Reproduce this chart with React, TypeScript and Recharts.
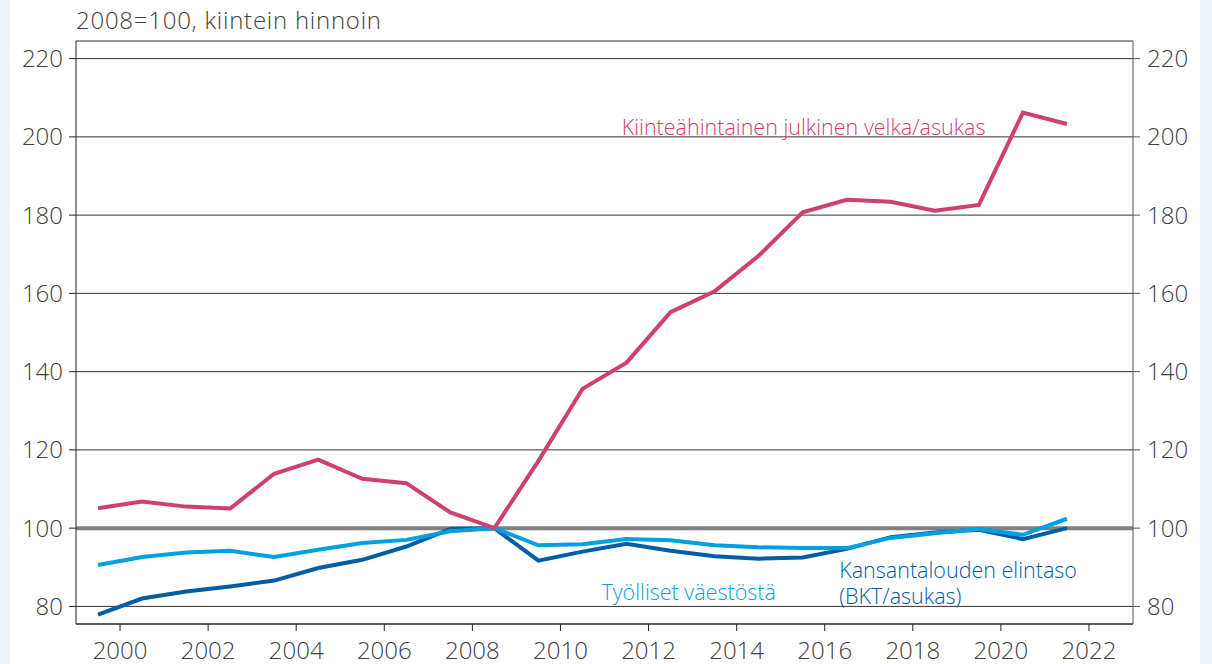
import React from 'react';
import { LineChart, Line, XAxis, YAxis, CartesianGrid, ReferenceLine, ReferenceDot } from 'recharts';

const years = [1999, 2000, 2001, 2002, 2003, 2004, 2005, 2006, 2007, 2008, 2009, 2010, 2011, 2012, 2013, 2014, 2015, 2016, 2017, 2018, 2019, 2020, 2021];
const debtPerCapita = [105.1, 106.8, 105.5, 105.0, 113.9, 117.5, 112.6, 111.5, 104.0, 100.0, 117.2, 135.6, 142.3, 155.2, 160.5, 169.6, 180.7, 183.9, 183.4, 181.1, 182.6, 206.2, 203.3];
const employedShare = [90.6, 92.6, 93.8, 94.2, 92.6, 94.5, 96.2, 97.0, 99.2, 100.0, 95.6, 95.9, 97.2, 96.9, 95.6, 95.1, 94.9, 94.9, 97.5, 98.7, 99.8, 98.3, 102.4];
const gdpPerCapita = [77.9, 82.0, 83.8, 85.1, 86.6, 89.8, 91.9, 95.3, 99.8, 100.0, 91.7, 94.0, 96.0, 94.2, 92.8, 92.2, 92.5, 94.7, 97.7, 98.9, 99.6, 97.2, 100.0];
const xTicks = [2000, 2002, 2004, 2006, 2008, 2010, 2012, 2014, 2016, 2018, 2020, 2022];
const yTicks = [80, 100, 120, 140, 160, 180, 200, 220];

const titleText = '2008=100, kiintein hinnoin';
const debtLabel = 'Kiinteähintainen julkinen velka/asukas';
const employedLabel = 'Työlliset väestöstä';
const gdpLabel1 = 'Kansantalouden elintaso';
const gdpLabel2 = '(BKT/asukas)';

// each annual value is placed at the middle of its year
const data = years.map((y, i) => ({
  x: y + 0.5,
  debt: debtPerCapita[i],
  employed: employedShare[i],
  gdp: gdpPerCapita[i],
}));

const FONT = '"Open Sans", "Noto Sans", sans-serif';
const PINK = '#cf3f6f';
const LIGHT = '#00a0e2';
const DARK = '#005da6';
const TEXT = '#404040';

const textLabel = (value: string, color: string) => (props: any) => {
  const vb = props.viewBox || {};
  const x = vb.x + (vb.width || 0) / 2;
  const y = vb.y + (vb.height || 0) / 2;
  return (
    <text x={x} y={y} fill={color} fontSize={21.5} fontWeight={300} fontFamily={FONT} textAnchor="start">
      {value}
    </text>
  );
};

const tickStyle = { fill: TEXT, fontSize: 24, fontWeight: 300, fontFamily: FONT };

export default function App() {
  return (
    <div style={{ position: 'fixed', left: 0, top: 0, width: 1212, height: 664, background: '#eef3f8' }}>
      <div style={{ position: 'absolute', left: 10, top: 0, width: 1190, height: 664, background: '#ffffff' }} />
      <div style={{ position: 'absolute', left: 76, top: 5, fontFamily: FONT, fontSize: 24, fontWeight: 300, letterSpacing: 0.75, color: TEXT, lineHeight: '30px', whiteSpace: 'nowrap' }}>
        {titleText}
      </div>
      <div style={{ position: 'absolute', left: 0, top: 0 }}>
        <LineChart width={1212} height={664} data={data} margin={{ top: 41, right: 19, bottom: 10, left: 16 }}>
          <CartesianGrid vertical={false} stroke="#333333" strokeWidth={1} yAxisId="left" />
          <XAxis
            dataKey="x"
            type="number"
            domain={[1999, 2023]}
            ticks={xTicks}
            allowDataOverflow
            interval={0}
            height={30}
            tickSize={7}
            tickMargin={11}
            stroke="#222222"
            tick={tickStyle}
          />
          <YAxis
            yAxisId="left"
            domain={[75.5, 224.5]}
            ticks={yTicks}
            allowDataOverflow
            width={60}
            tickSize={7}
            tickMargin={6}
            stroke="#222222"
            tick={tickStyle}
          />
          <YAxis
            yAxisId="right"
            orientation="right"
            domain={[75.5, 224.5]}
            ticks={yTicks}
            allowDataOverflow
            width={60}
            tickSize={7}
            tickMargin={7}
            stroke="#555555"
            tick={tickStyle}
          />
          <ReferenceLine yAxisId="left" y={100} stroke="#808080" strokeWidth={4} />
          <Line yAxisId="left" dataKey="gdp" stroke={DARK} strokeWidth={4} dot={false} isAnimationActive={false} />
          <Line yAxisId="left" dataKey="employed" stroke={LIGHT} strokeWidth={4} dot={false} isAnimationActive={false} />
          <Line yAxisId="left" dataKey="debt" stroke={PINK} strokeWidth={4} dot={false} isAnimationActive={false} />
          <ReferenceDot yAxisId="left" x={2011.39} y={200.4} r={0} fill="none" stroke="none" label={textLabel(debtLabel, PINK)} />
          <ReferenceDot yAxisId="left" x={2010.93} y={81.7} r={0} fill="none" stroke="none" label={textLabel(employedLabel, LIGHT)} />
          <ReferenceDot yAxisId="left" x={2016.33} y={87.25} r={0} fill="none" stroke="none" label={textLabel(gdpLabel1, DARK)} />
          <ReferenceDot yAxisId="left" x={2016.33} y={80.7} r={0} fill="none" stroke="none" label={textLabel(gdpLabel2, DARK)} />
        </LineChart>
      </div>
    </div>
  );
}
